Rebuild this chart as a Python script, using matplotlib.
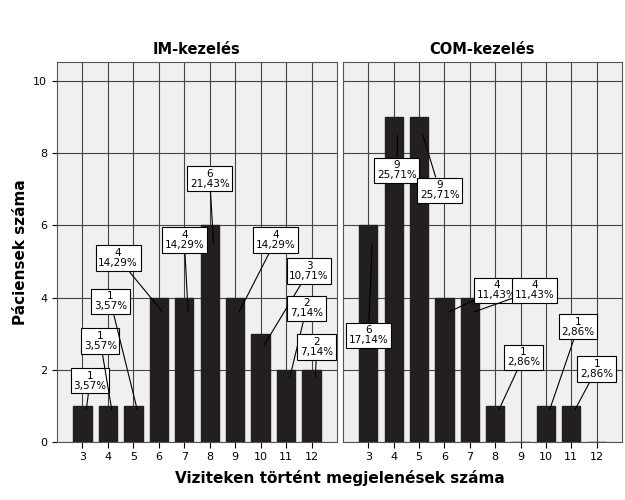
import matplotlib
matplotlib.use("Agg")
import matplotlib.pyplot as plt

categories = [3, 4, 5, 6, 7, 8, 9, 10, 11, 12]
im_counts = [1, 1, 1, 4, 4, 6, 4, 3, 2, 2]
im_pct = ["3,57%", "3,57%", "3,57%", "14,29%", "14,29%", "21,43%", "14,29%", "10,71%", "7,14%", "7,14%"]
com_counts = [6, 9, 9, 4, 4, 1, 0, 1, 1, 0]
com_pct = ["17,14%", "25,71%", "25,71%", "11,43%", "11,43%", "2,86%", "", "2,86%", "2,86%", ""]
titles = ["IM-kezelés", "COM-kezelés"]

# label box positions (style/layout)
im_lab = [(3.3, 1.7), (3.7, 2.8), (4.1, 3.9), (4.4, 5.1), (7.0, 5.6), (8.0, 7.3),
          (10.6, 5.6), (11.9, 4.74), (11.8, 3.7), (12.2, 2.63)]
com_lab = [(3.0, 2.96), (4.12, 7.53), (5.81, 6.98), (8.05, 4.2), (9.55, 4.2), (9.11, 2.35),
           None, (11.27, 3.19), (12.0, 2.02), None]

fig = plt.figure(figsize=(6.25, 5), dpi=100)
fig.patch.set_facecolor("white")
axes = [fig.add_axes([57/625, 0.116, 280/625, 0.76]),
        fig.add_axes([343/625, 0.116, 279/625, 0.76])]

for i, (ax, counts, pcts, labs, title) in enumerate(zip(
        axes, [im_counts, com_counts], [im_pct, com_pct], [im_lab, com_lab], titles)):
    ax.set_facecolor("#f0f0f0")
    ax.set_xlim(2, 13)
    ax.set_ylim(0, 10.53)
    ax.set_xticks(categories)
    ax.set_xticklabels([str(c) for c in categories], fontsize=8)
    ax.set_yticks([0, 2, 4, 6, 8, 10])
    ax.grid(True, color="#444444", linewidth=0.8)
    ax.set_axisbelow(True)
    for s in ax.spines.values():
        s.set_color("#555555")
    ax.bar(categories, counts, width=0.72, color="#231f20", edgecolor="#231f20", zorder=3)
    for c, v, p, lab in zip(categories, counts, pcts, labs):
        if lab is None or v == 0:
            continue
        tgt = (c + 0.15, v - min(0.5, v * 0.1))
        ax.annotate(f"{v}\n{p}", xy=tgt, xytext=lab, ha="center", va="center",
                    fontsize=7.5, linespacing=1.0, zorder=5,
                    bbox=dict(boxstyle="square,pad=0.25", fc="white", ec="black", lw=0.8),
                    arrowprops=dict(arrowstyle="-", color="black", lw=0.8,
                                    shrinkA=0, shrinkB=0))
    ax.tick_params(axis="x", length=4)
    if i == 0:
        ax.set_yticklabels(["0", "2", "4", "6", "8", "10"], fontsize=8)
        ax.set_ylabel("Páciensek száma", fontsize=11, fontweight="bold")
    else:
        ax.set_yticklabels([])
        ax.tick_params(axis="y", length=0)
    ax.set_title(title, fontsize=10.5, fontweight="bold", pad=6)

fig.text((57 + 622) / 2 / 625, 1 - 478 / 500, "Viziteken történt megjelenések száma",
         ha="center", va="center", fontsize=11, fontweight="bold")

fig.savefig("out.png", dpi=100)
